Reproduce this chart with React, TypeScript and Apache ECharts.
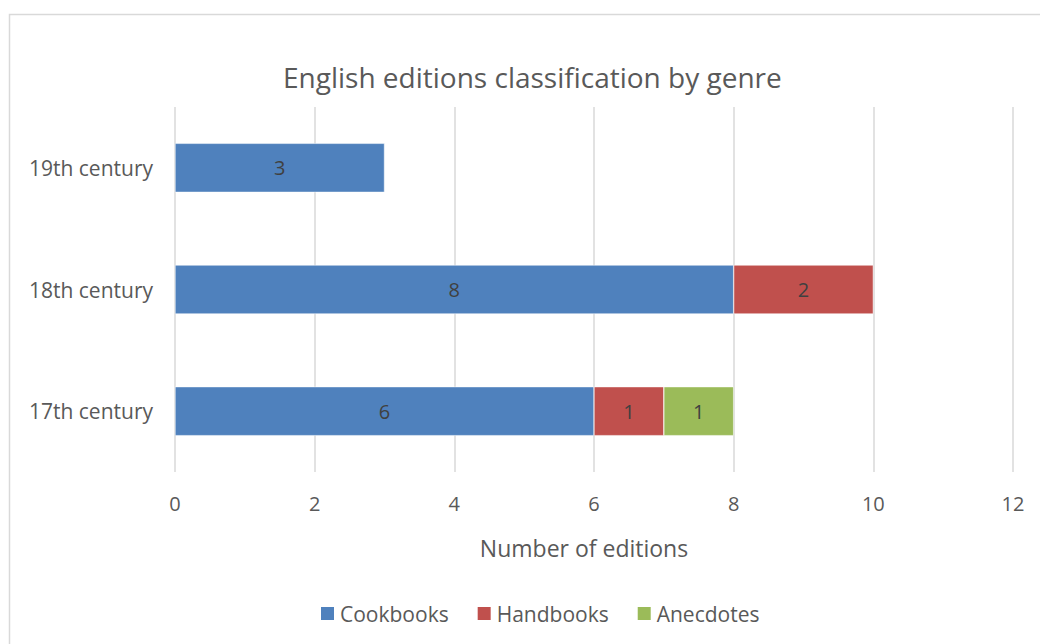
import React, { useEffect, useRef } from "react";
import * as echarts from "echarts";

const categories = ["17th century", "18th century", "19th century"];
const cookbooks = [6, 8, 3];
const handbooks = [1, 2, null];
const anecdotes = [1, null, null];
const xTicks = { min: 0, max: 12, interval: 2 };

const FONT = "'Open Sans', 'Liberation Sans', sans-serif";
const TXT = "#595959";

export default function App() {
  const ref = useRef<HTMLDivElement>(null);
  useEffect(() => {
    const chart = echarts.init(ref.current!, null, { renderer: "svg" });
    const label = {
      show: true,
      position: "inside",
      color: "#404040",
      fontSize: 20,
      fontFamily: FONT,
    };
    const mk = (name: string, data: (number | null)[], color: string) => ({
      name,
      type: "bar",
      stack: "total",
      data,
      barWidth: 49,
      itemStyle: { color, borderColor: "#ffffff", borderWidth: 0.5 },
      label,
    });
    chart.setOption({
      animation: false,
      backgroundColor: "#ffffff",
      title: {
        text: "English editions classification by genre",
        left: 270,
        top: 50,
        textStyle: { fontSize: 28, fontWeight: "normal", color: TXT, fontFamily: FONT },
      },
      grid: { left: 167, right: 27, top: 99, bottom: 172, containLabel: false },
      xAxis: {
        type: "value",
        min: xTicks.min,
        max: xTicks.max,
        interval: xTicks.interval,
        name: "Number of editions",
        nameLocation: "middle",
        nameGap: 64,
        nameTextStyle: { fontSize: 23, color: TXT, fontFamily: FONT, padding: [0, 20, 0, 0] },
        axisLabel: { fontSize: 20, color: TXT, fontFamily: FONT, margin: 21 },
        axisLine: { show: false },
        axisTick: { show: false },
        splitLine: { show: true, lineStyle: { color: "#d9d9d9", width: 1.5 } },
      },
      yAxis: {
        type: "category",
        data: categories,
        axisLabel: { fontSize: 21, color: TXT, fontFamily: FONT, margin: 22 },
        axisLine: { show: false },
        axisTick: { show: false },
        splitLine: { show: false },
      },
      legend: {
        bottom: 15,
        left: 306,
        itemWidth: 15,
        itemHeight: 15,
        itemGap: 27,
        icon: "rect",
        textStyle: { fontSize: 21, color: TXT, fontFamily: FONT },
        data: ["Cookbooks", "Handbooks", "Anecdotes"],
      },
      graphic: [
        {
          type: "rect",
          shape: { x: 1.5, y: 6.5, width: 1100, height: 700 },
          style: { fill: "none", stroke: "#d9d9d9", lineWidth: 1.5 },
          silent: true,
          z: -10,
        },
      ],
      series: [
        mk("Cookbooks", cookbooks, "#4f81bd"),
        mk("Handbooks", handbooks, "#c0504d"),
        mk("Anecdotes", anecdotes, "#9bbb59"),
      ],
    });
    return () => chart.dispose();
  }, []);
  return (
    <div
      ref={ref}
      style={{ position: "fixed", left: 8, top: 8, width: 1032, height: 636 }}
    />
  );
}
